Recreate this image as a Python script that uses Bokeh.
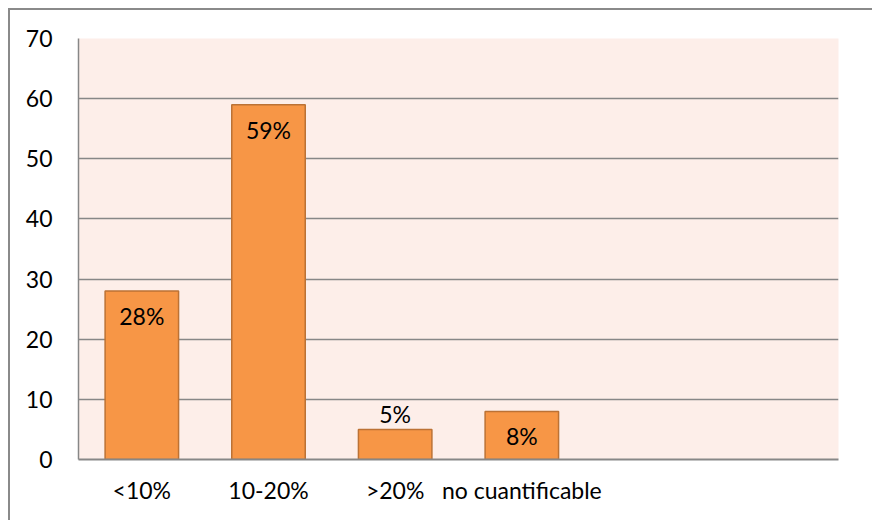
from bokeh.plotting import figure
from bokeh.models import ColumnDataSource, FactorRange, Range1d, FixedTicker
from bokeh.core.properties import value
from bokeh.embed import file_html
from bokeh.resources import INLINE

categories = ["<10%", "10-20%", ">20%", "no cuantificable", "", " "]
bar_categories = ["<10%", "10-20%", ">20%", "no cuantificable"]
values = [28, 59, 5, 8]
labels = ["28%", "59%", "5%", "8%"]
y_ticks = [0, 10, 20, 30, 40, 50, 60, 70]

FONT = "Lato"
FS = "23px"
GRAY = "#878787"

p = figure(
    width=864, height=512,
    x_range=FactorRange(factors=categories, range_padding=0),
    y_range=Range1d(0, 70),
    output_backend="svg", toolbar_location=None,
    min_border_left=68, min_border_top=28, min_border_right=36, min_border_bottom=63,
    margin=(8, 0, 0, 8),
    styles={"border-left": "2px solid #8a8a8a", "border-top": "2px solid #8a8a8a"},
)
p.background_fill_color = "#FDEEE9"
p.border_fill_color = "white"
p.outline_line_color = None

src = ColumnDataSource(dict(x=bar_categories, top=values, label=labels))
p.vbar(x="x", top="top", width=0.58, source=src,
       fill_color="#F79646", line_color="#BC7235", line_width=1.5)

inside = [v >= 7 for v in values]
src_in = ColumnDataSource(dict(
    x=[c for c, f in zip(bar_categories, inside) if f],
    y=[v for v, f in zip(values, inside) if f],
    label=[l for l, f in zip(labels, inside) if f]))
src_out = ColumnDataSource(dict(
    x=[c for c, f in zip(bar_categories, inside) if not f],
    y=[v for v, f in zip(values, inside) if not f],
    label=[l for l, f in zip(labels, inside) if not f]))
p.text(x="x", y="y", text="label", source=src_in, text_align="center",
       text_baseline="top", y_offset=11, text_font=value(FONT),
       text_font_size=FS, text_color="black")
p.text(x="x", y="y", text="label", source=src_out, text_align="center",
       text_baseline="bottom", y_offset=-1, text_font=value(FONT),
       text_font_size=FS, text_color="black")

p.yaxis.ticker = FixedTicker(ticks=y_ticks)
p.ygrid.ticker = FixedTicker(ticks=y_ticks)
p.ygrid.grid_line_color = GRAY
p.ygrid.grid_line_width = 1.5
p.xgrid.grid_line_color = None

for ax in (p.xaxis, p.yaxis):
    ax.major_tick_line_color = None
    ax.minor_tick_line_color = None
    ax.axis_line_color = GRAY
    ax.major_label_text_font = FONT
    ax.major_label_text_font_size = FS
    ax.major_label_text_color = "black"
p.yaxis.axis_line_width = 1.5
p.xaxis.axis_line_width = 2
p.yaxis.major_label_standoff = 20
p.xaxis.major_label_standoff = 10

open("out.html", "w").write(file_html(p, INLINE))
